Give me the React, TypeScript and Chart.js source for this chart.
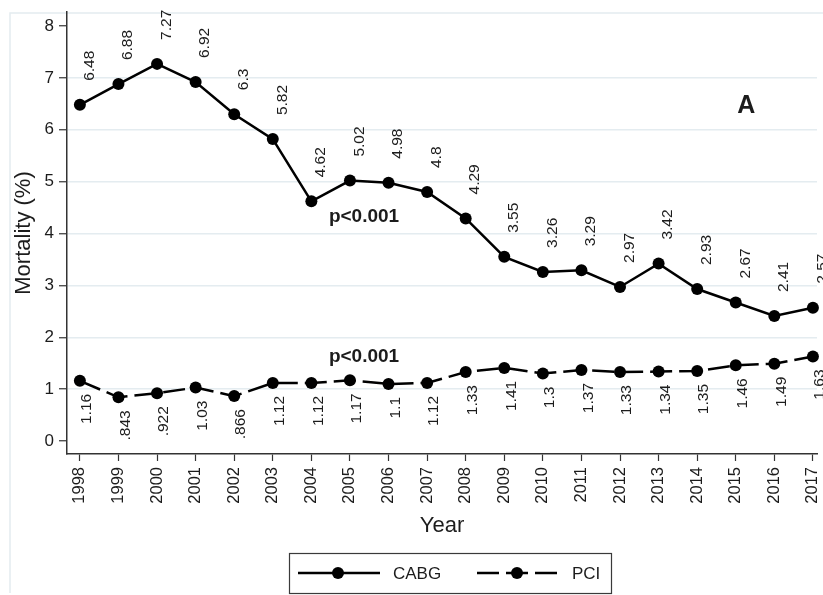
import React, { useEffect, useRef } from "react";
import { Chart, registerables } from "chart.js";

Chart.register(...registerables);

// Annual in-hospital mortality (%), 1998–2017
const years = [1998, 1999, 2000, 2001, 2002, 2003, 2004, 2005, 2006, 2007, 2008, 2009, 2010, 2011, 2012, 2013, 2014, 2015, 2016, 2017];
const cabgMortality = [6.48, 6.88, 7.27, 6.92, 6.3, 5.82, 4.62, 5.02, 4.98, 4.8, 4.29, 3.55, 3.26, 3.29, 2.97, 3.42, 2.93, 2.67, 2.41, 2.57];
const pciMortality = [1.16, 0.843, 0.922, 1.03, 0.866, 1.12, 1.12, 1.17, 1.1, 1.12, 1.33, 1.41, 1.3, 1.37, 1.33, 1.34, 1.35, 1.46, 1.49, 1.63];
const yTickValues = [0, 1, 2, 3, 4, 5, 6, 7, 8];
const seriesNames = ["CABG", "PCI"];
const trendNote = "p<0.001";
const panelLetter = "A";

const FONT = "'Liberation Sans', Arial, Helvetica, sans-serif";
const INK = "#1c1c1c";
const GRID = "#e4ecf0";
const PCI_DASH = [22, 7];

// Stata-style number label: drop the leading zero (0.843 -> .843)
const fmt = (v: number) => {
  const s = String(v);
  return s.startsWith("0.") ? s.slice(1) : s;
};

const decorPlugin = {
  id: "decor",
  beforeDraw(chart: any) {
    const { ctx, width, height } = chart;
    ctx.save();
    ctx.strokeStyle = GRID;
    ctx.lineWidth = 1.5;
    ctx.beginPath();
    ctx.moveTo(10, height - 2);
    ctx.lineTo(10, 13);
    ctx.lineTo(width, 13);
    ctx.stroke();
    ctx.restore();
  },
  afterDatasetsDraw(chart: any) {
    const { ctx } = chart;
    const xs = chart.scales.x;
    const ys = chart.scales.y;

    // value labels, rotated to read upward
    ctx.save();
    ctx.fillStyle = INK;
    ctx.font = `15.5px ${FONT}`;
    ctx.textBaseline = "middle";
    const cabgMeta = chart.getDatasetMeta(0);
    cabgMeta.data.forEach((pt: any, i: number) => {
      ctx.save();
      ctx.translate(pt.x + 9.5, pt.y - 24);
      ctx.rotate(-Math.PI / 2);
      ctx.textAlign = "left";
      ctx.fillText(fmt(cabgMortality[i]), 0, 0);
      ctx.restore();
    });
    const pciMeta = chart.getDatasetMeta(1);
    pciMeta.data.forEach((pt: any, i: number) => {
      ctx.save();
      ctx.translate(pt.x + 7, pt.y + 13);
      ctx.rotate(-Math.PI / 2);
      ctx.textAlign = "right";
      ctx.fillText(fmt(pciMortality[i]), 0, 0);
      ctx.restore();
    });
    ctx.restore();

    // trend p-values and panel letter
    ctx.save();
    ctx.fillStyle = INK;
    ctx.textBaseline = "alphabetic";
    ctx.font = `bold 19px ${FONT}`;
    ctx.textAlign = "left";
    ctx.fillText(trendNote, xs.getPixelForValue(2004.455), ys.getPixelForValue(4.22));
    ctx.fillText(trendNote, xs.getPixelForValue(2004.455), ys.getPixelForValue(1.52));
    ctx.font = `bold 25px ${FONT}`;
    ctx.textAlign = "center";
    ctx.fillText(panelLetter, xs.getPixelForValue(2015.27), ys.getPixelForValue(6.32));
    ctx.restore();
  },
  afterDraw(chart: any) {
    const { ctx } = chart;
    // legend box
    ctx.save();
    ctx.strokeStyle = "#3a3a3a";
    ctx.lineWidth = 1.2;
    ctx.strokeRect(289.5, 553.5, 322, 40);
    const cy = 573;
    ctx.strokeStyle = "#000";
    ctx.fillStyle = "#000";
    ctx.lineWidth = 2.5;
    // CABG key
    ctx.beginPath();
    ctx.moveTo(298, cy);
    ctx.lineTo(380, cy);
    ctx.stroke();
    ctx.beginPath();
    ctx.arc(338, cy, 6, 0, Math.PI * 2);
    ctx.fill();
    // PCI key
    ctx.setLineDash(PCI_DASH);
    ctx.beginPath();
    ctx.moveTo(477, cy);
    ctx.lineTo(557, cy);
    ctx.stroke();
    ctx.setLineDash([]);
    ctx.beginPath();
    ctx.arc(517, cy, 6, 0, Math.PI * 2);
    ctx.fill();
    ctx.fillStyle = INK;
    ctx.font = `17px ${FONT}`;
    ctx.textAlign = "left";
    ctx.textBaseline = "middle";
    ctx.fillText(seriesNames[0], 393, cy + 1);
    ctx.fillText(seriesNames[1], 572, cy + 1);
    ctx.restore();
  },
};

export default function App() {
  const canvasRef = useRef<HTMLCanvasElement | null>(null);

  useEffect(() => {
    if (!canvasRef.current) return;
    const chart = new Chart(canvasRef.current, {
      type: "line",
      data: {
        datasets: [
          {
            label: seriesNames[0],
            data: years.map((yr, i) => ({ x: yr, y: cabgMortality[i] })),
            borderColor: "#000",
            backgroundColor: "#000",
            borderWidth: 2.5,
            pointRadius: 6,
            pointBorderWidth: 0,
            pointBackgroundColor: "#000",
            tension: 0,
            clip: false,
          },
          {
            label: seriesNames[1],
            data: years.map((yr, i) => ({ x: yr, y: pciMortality[i] })),
            borderColor: "#000",
            backgroundColor: "#000",
            borderWidth: 2.5,
            borderDash: PCI_DASH,
            pointRadius: 6,
            pointBorderWidth: 0,
            pointBackgroundColor: "#000",
            tension: 0,
            clip: false,
          },
        ],
      },
      options: {
        responsive: false,
        animation: false,
        layout: { padding: { top: 12, right: 0, bottom: 50, left: 0 } },
        plugins: {
          legend: { display: false },
          tooltip: { enabled: false },
        },
        scales: {
          x: {
            type: "linear",
            min: 1997.666,
            max: 2017.106,
            afterBuildTicks: (axis: any) => {
              axis.ticks = years.map((v) => ({ value: v }));
            },
            afterFit: (axis: any) => {
              axis.height = 91;
              axis.paddingLeft = 0;
              axis.paddingRight = 0;
            },
            grid: {
              display: true,
              drawOnChartArea: false,
              drawTicks: true,
              tickLength: 7,
              tickColor: "#333",
              tickWidth: 1.2,
            },
            border: { display: true, color: "#333", width: 1.5 },
            ticks: {
              autoSkip: false,
              minRotation: 90,
              maxRotation: 90,
              padding: 6,
              color: INK,
              font: { family: FONT, size: 16.5 },
              callback: (v: any) => String(v),
            },
            title: {
              display: true,
              text: "Year",
              color: INK,
              font: { family: FONT, size: 22 },
              padding: { top: 0, bottom: 6 },
            },
          },
          y: {
            type: "linear",
            min: -0.25,
            max: 8.27,
            afterBuildTicks: (axis: any) => {
              axis.ticks = yTickValues.map((v) => ({ value: v }));
            },
            afterFit: (axis: any) => {
              axis.width = 67;
              axis.paddingTop = 0;
              axis.paddingBottom = 0;
            },
            grid: {
              color: (c: any) => (c.tick && c.tick.value > 0 && c.tick.value < 8 ? GRID : "rgba(0,0,0,0)"),
              lineWidth: 1.5,
              drawTicks: true,
              tickLength: 8,
              tickColor: "#333",
              tickWidth: 1.2,
            },
            border: { display: true, color: "#333", width: 1.5 },
            ticks: {
              padding: 5,
              color: INK,
              font: { family: FONT, size: 17 },
              callback: (v: any) => String(v),
            },
            title: {
              display: true,
              text: "Mortality (%)",
              color: INK,
              font: { family: FONT, size: 22 },
              padding: { top: 11, bottom: 0 },
            },
          },
        },
      },
      plugins: [decorPlugin],
    });
    return () => chart.destroy();
  }, []);

  return (
    <div style={{ position: "absolute", left: 0, top: 0, width: 823, height: 595, background: "#fff" }}>
      <canvas ref={canvasRef} width={823} height={595} />
    </div>
  );
}
